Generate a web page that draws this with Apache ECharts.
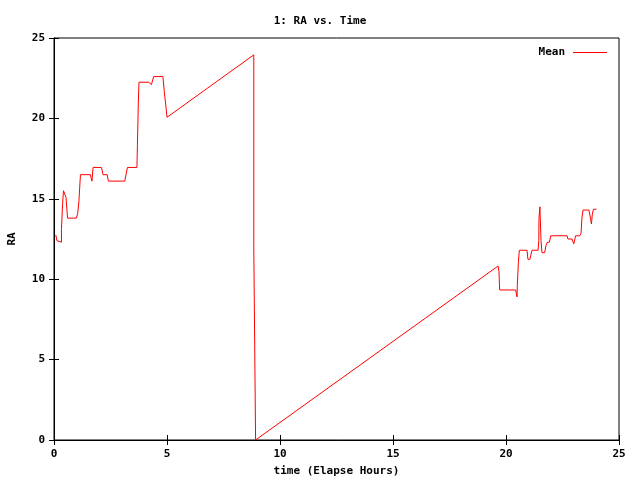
<!DOCTYPE html>
<html>
<head>
<meta charset="utf-8">
<script src="https://cdn.jsdelivr.net/npm/echarts@6/dist/echarts.min.js"></script>
<style>html,body{margin:0;padding:0;background:#fff}#c{width:640px;height:480px}</style>
</head>
<body>
<div id="c"></div>
<script>
var hours = [0.08,0.13,0.17,0.33,0.33,0.38,0.42,0.50,0.53,0.60,0.99,1.05,1.10,1.17,1.61,1.68,1.73,2.10,2.17,2.35,2.41,3.13,3.20,3.25,3.67,3.69,3.73,3.76,4.20,4.31,4.41,4.82,4.88,4.94,5.00,8.84,8.84,8.92,8.92,19.65,19.69,19.72,20.43,20.46,20.49,20.50,20.55,20.59,20.93,20.97,21.06,21.10,21.15,21.42,21.45,21.46,21.50,21.55,21.59,21.71,21.77,21.83,21.92,21.98,22.70,22.74,22.92,23.00,23.08,23.26,23.32,23.36,23.41,23.67,23.75,23.78,23.82,23.87,24.00];
var raMean = [12.75,12.4,12.3,12.3,13.1,14.7,15.5,15.5,15.1,13.8,13.8,14.1,14.8,16.5,16.5,16.1,16.95,16.95,16.5,16.5,16.1,16.1,16.6,16.95,16.95,18.3,20.9,22.25,22.25,22.1,22.6,22.6,21.66,20.9,20.07,23.95,12.0,11.9,0,10.82,10.47,9.33,9.33,9.08,8.9,9.6,11.1,11.8,11.8,11.24,11.24,11.5,11.8,11.8,12.4,13.8,14.5,12.4,11.65,11.65,12.1,12.3,12.3,12.7,12.7,12.5,12.5,12.2,12.7,12.7,12.85,13.8,14.3,14.3,13.7,13.43,14.05,14.35,14.35];
var xTicks = [0,5,10,15,20,25];
var yTicks = [0,5,10,15,20,25];
var titleText = '1: RA vs. Time';
var xName = 'time (Elapse Hours)';
var yName = 'RA';
var seriesName = 'Mean';

var pts = hours.map(function(h,i){return [h, raMean[i]];});
var FONT = 'DejaVu Sans Mono';
var txt = {fontFamily: FONT, fontSize: 11, fontWeight: 'bold', color: '#000'};
function axisCommon(showLabel){
  return {
    axisLine: {show: true, lineStyle: {color: '#000', width: 1}},
    axisTick: {show: true, inside: true, length: 5, lineStyle: {color: '#000'}},
    axisLabel: Object.assign({show: showLabel, margin: 9}, txt),
    splitLine: {show: false}
  };
}
var chart = echarts.init(document.getElementById('c'), null, {renderer: 'canvas'});
chart.setOption({
  animation: false,
  backgroundColor: '#fff',
  title: {text: titleText, left: 'center', top: 11, textStyle: txt},
  legend: {
    data: [{name: seriesName, icon: 'path://M0,0H34V1H0Z'}],
    right: 28, top: 42, align: 'right', itemWidth: 34, itemHeight: 12, itemGap: 8,
    itemStyle: {color: '#ff0000', borderWidth: 0},
    lineStyle: {color: '#ff0000', width: 0},
    textStyle: Object.assign({padding: [0, 3, 0, 0]}, txt)
  },
  grid: {left: 54, right: 21, top: 38, bottom: 40, show: true, borderColor: '#000', borderWidth: 1,
    outerBoundsMode: 'none', containLabel: false},
  xAxis: [
    Object.assign({type: 'value', min: 0, max: 25, interval: 5, position: 'bottom',
      name: xName, nameLocation: 'middle', nameGap: 26, nameTextStyle: txt}, axisCommon(true)),
    Object.assign({type: 'value', min: 0, max: 25, interval: 5, position: 'top'}, axisCommon(false))
  ],
  yAxis: [
    Object.assign({type: 'value', min: 0, max: 25, interval: 5, position: 'left',
      name: yName, nameLocation: 'middle', nameGap: 36, nameRotate: 90, nameTextStyle: txt}, axisCommon(true)),
    Object.assign({type: 'value', min: 0, max: 25, interval: 5, position: 'right'}, axisCommon(false))
  ],
  series: [{
    name: seriesName, type: 'line', data: pts, showSymbol: false, symbol: 'none',
    lineStyle: {color: '#ff0000', width: 1}, itemStyle: {color: '#ff0000'}
  }]
});
</script>
</body>
</html>
